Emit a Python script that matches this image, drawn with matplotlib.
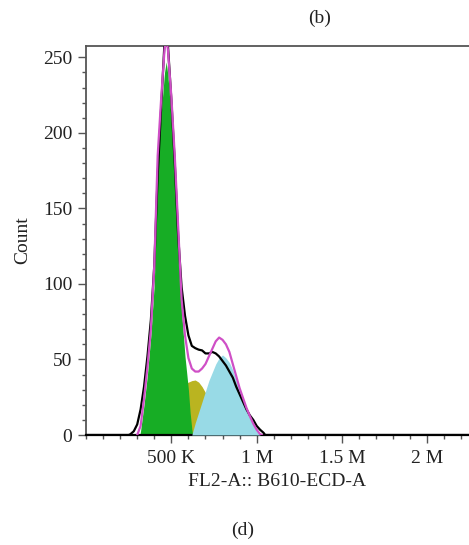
import matplotlib
matplotlib.use("Agg")
import matplotlib.pyplot as plt
from matplotlib.ticker import MultipleLocator, FixedLocator, FixedFormatter

plt.rcParams['font.family'] = ['Liberation Serif', 'DejaVu Serif']

# ---- data (x in thousands of FL2-A units) ----
black_x = [0, 250, 260, 280, 300, 320, 340, 360, 380, 400, 420, 440, 460, 470, 480, 500, 520, 540,
           560, 580, 600, 620, 640, 660, 680, 700, 720, 740, 760, 780, 800, 820, 840, 860, 880, 900,
           920, 940, 960, 980, 1000, 1020, 1040, 1050, 2300]
black_y = [0, 0, 0.5, 2.5, 7, 17, 32, 52, 76, 112, 172, 216, 260, 268, 258, 222, 180, 132,
           98, 79, 66, 59, 57.5, 56.5, 56, 54, 54, 55, 54, 52, 49, 46, 42, 38, 32, 27,
           22, 17, 13, 10, 6, 3.5, 1.5, 0, 0]

fit_x = [300, 320, 340, 360, 380, 400, 420, 440, 460, 470, 480, 500, 520, 540, 560, 580, 600,
         620, 640, 660, 680, 700, 720, 740, 760, 780, 800, 820, 840, 860, 880, 900, 920, 940,
         960, 980, 1000, 1020, 1030]
fit_y = [0, 6, 24, 45, 70, 112, 185, 222, 255, 264, 255, 224, 185, 138, 90, 66, 51,
         44, 42, 42, 44, 47, 52, 57, 62, 64.5, 63, 60, 55, 47, 39, 31, 24.5, 18,
         12.5, 7.5, 3.5, 0.5, 0]

g1_x = [316, 320, 340, 360, 380, 400, 420, 440, 460, 470, 480, 500, 520, 540, 560, 580, 600, 610, 620, 625]
g1_y = [0, 3, 20, 40, 66, 100, 178, 212, 240, 247, 238, 208, 172, 126, 82, 52, 30, 15, 4, 0]

s_x = [440, 480, 520, 560, 580, 600, 620, 640, 660, 680, 700, 720, 740, 760, 780, 800, 820]
s_y = [0, 10, 22, 31, 34, 35, 36, 36.4, 35, 32, 28, 23, 18, 12, 7, 3, 0]

g2_x = [620, 640, 660, 680, 700, 720, 740, 760, 780, 800, 820, 840, 860, 880, 900, 920, 940,
        960, 980, 1000, 1020]
g2_y = [0, 8, 15, 22, 29, 36, 41.5, 47, 51, 53, 51, 48, 43, 36, 29, 22.5, 16.5,
        11, 6.5, 2.5, 0]

x_tick_vals = [500, 1000, 1500, 2000]
x_tick_labels = ["500 K", "1 M", "1.5 M", "2 M"]
y_tick_vals = [0, 50, 100, 150, 200, 250]

# ---- figure ----
W, H = 469, 545
fig = plt.figure(figsize=(W / 100, H / 100), dpi=100)
ax = fig.add_axes([86 / W, (H - 435) / H, 1 - 86 / W, (435 - 46) / H])

ax.fill_between(s_x, s_y, color="#bab420", lw=0, zorder=1)
ax.fill_between(g1_x, g1_y, color="#17ad25", lw=0, zorder=2)
ax.fill_between(g2_x, g2_y, color="#98dae6", lw=0, zorder=3)
ax.plot(black_x, black_y, color="black", lw=1.6, zorder=4)
ax.plot(fit_x, fit_y, color="#cf4fc6", lw=1.6, zorder=5)

ax.set_xlim(0, 2244)
ax.set_ylim(0, 257.5)

ax.xaxis.set_major_locator(FixedLocator(x_tick_vals))
ax.xaxis.set_major_formatter(FixedFormatter(x_tick_labels))
ax.xaxis.set_minor_locator(MultipleLocator(100))
ax.yaxis.set_major_locator(FixedLocator(y_tick_vals))
ax.yaxis.set_minor_locator(MultipleLocator(10))

spine_col = "#555555"
ax.spines['right'].set_visible(False)
for s in ['left', 'top']:
    ax.spines[s].set_color(spine_col)
    ax.spines[s].set_linewidth(1.3)
ax.spines['bottom'].set_color("black")
ax.spines['bottom'].set_linewidth(1.6)

ax.tick_params(axis='both', which='major', direction='out', length=6, width=1.0,
               colors=spine_col, labelcolor="#222222", labelsize=14)
ax.tick_params(axis='both', which='minor', direction='out', length=3, width=1.0, colors=spine_col)
ax.tick_params(axis='y', which='major', pad=4)
ax.tick_params(axis='x', which='major', pad=5)

ax.set_ylabel("Count", fontsize=14, color="#222222", labelpad=8)
ax.set_xlabel("FL2-A:: B610-ECD-A", fontsize=14, color="#222222", labelpad=4)

fig.text(320 / W, 1 - 18 / H, "(b)", ha="center", va="center", fontsize=14, color="#222222")
fig.text(243 / W, 1 - 530 / H, "(d)", ha="center", va="center", fontsize=14, color="#222222")

fig.savefig("out.png", dpi=100)
